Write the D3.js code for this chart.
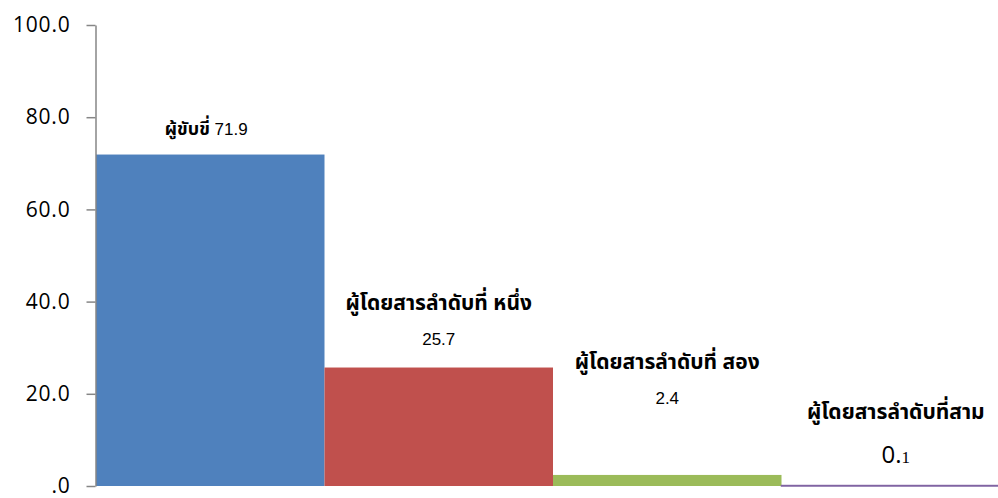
<!DOCTYPE html>
<html>
<head>
<meta charset="utf-8">
<script src="https://cdn.jsdelivr.net/npm/d3@7"></script>
<style>
  body { margin: 0; background: #fff; }
  svg { display: block; }
</style>
</head>
<body>
<div id="chart"></div>
<script>
const categories = ['ผู้ขับขี่', 'ผู้โดยสารลำดับที่ หนึ่ง', 'ผู้โดยสารลำดับที่ สอง', 'ผู้โดยสารลำดับที่สาม']
const values = [71.9, 25.7, 2.4, 0.1]
const yTicks = [0, 20, 40, 60, 80, 100]
const colors = ['#4F81BD', '#C0504D', '#9BBB59', '#8064A2']

const width = 998
const height = 498
const margin = { top: 25, bottom: 12, left: 96 }
const bandWidth = 228.5

const svg = d3.select('#chart').append('svg')
    .attr('width', width)
    .attr('height', height)

const x = d3.scaleBand()
    .domain(categories)
    .range([margin.left, margin.left + bandWidth * categories.length])
    .padding(0)

const y = d3.scaleLinear()
    .domain([0, 100])
    .range([height - margin.bottom, margin.top])

// bars (stroke keeps the tiny 0.1 bar visible as a thin line, like excel)
svg.append('g')
    .selectAll('rect')
    .data(values)
    .join('rect')
    .attr('x', (d, i) => x(categories[i]))
    .attr('y', d => y(d))
    .attr('width', x.bandwidth())
    .attr('height', d => y(0) - y(d))
    .attr('fill', (d, i) => colors[i])
    .attr('stroke', (d, i) => i === 3 ? colors[i] : 'none')
    .attr('stroke-width', 1.5)

// y axis
const fmt = d3.format('.1f')
const yAxis = svg.append('g')
    .attr('transform', `translate(${margin.left - 0.5}, 0)`)
    .call(d3.axisLeft(y)
        .tickValues(yTicks)
        .tickSizeOuter(0)
        .tickSizeInner(9)
        .tickPadding(16)
        .tickFormat(d => d === 0 ? '.0' : fmt(d)))
yAxis.select('.domain').attr('stroke', '#868686').attr('stroke-width', 1.5)
yAxis.selectAll('.tick line').attr('stroke', '#868686').attr('stroke-width', 1.5)
yAxis.selectAll('.tick text')
    .attr('fill', '#000')
    .style('font-family', '"Open Sans", "Noto Sans", sans-serif')
    .style('font-size', '21px')
    .style('letter-spacing', '0.8px')

// data labels (Excel-style, placed by hand above each bar)
const thaiFont = '"Noto Sans Thai", "Tahoma", "DejaVu Sans", sans-serif'
const numFont = '"Liberation Sans", Arial, sans-serif'
const labelG = svg.append('g')

// first bar: name and value on one line
const lbl0 = labelG.append('text')
    .attr('x', x(categories[0]) + x.bandwidth() / 2 - 4)
    .attr('y', y(values[0]) - 20)
    .attr('text-anchor', 'middle')
    .style('font-family', thaiFont)
    .style('font-size', '18px')
lbl0.append('tspan').attr('font-weight', 'bold').text(categories[0])
lbl0.append('tspan').style('font-family', numFont).style('font-size', '17px').text(' ' + values[0])

// the other bars: name above, value below
const nameOffsets = [0, 65, 113, 74]
const valueOffsets = [0, 29, 77, 31]
for (let i = 1; i < categories.length; i++) {
    const cx = x(categories[i]) + x.bandwidth() / 2
    labelG.append('text')
        .attr('x', cx)
        .attr('y', y(values[i]) - nameOffsets[i] + 7)
        .attr('text-anchor', 'middle')
        .attr('font-weight', 'bold')
        .style('font-family', thaiFont)
        .style('font-size', '21px')
        .text(categories[i])
    if (i < 3) {
        labelG.append('text')
            .attr('x', cx)
            .attr('y', y(values[i]) - valueOffsets[i] + 6)
            .attr('text-anchor', 'middle')
            .style('font-family', numFont)
            .style('font-size', '17px')
            .text(values[i].toFixed(1))
    } else {
        const s = values[i].toFixed(1)
        const t = labelG.append('text')
            .attr('x', cx)
            .attr('y', y(values[i]) - valueOffsets[i] + 8)
            .attr('text-anchor', 'middle')
        t.append('tspan').style('font-family', '"Open Sans", sans-serif').style('font-size', '24px').text(s.slice(0, 2))
        t.append('tspan').style('font-family', '"Liberation Serif", serif').style('font-size', '17px').text(s.slice(2))
    }
}
</script>
</body>
</html>
